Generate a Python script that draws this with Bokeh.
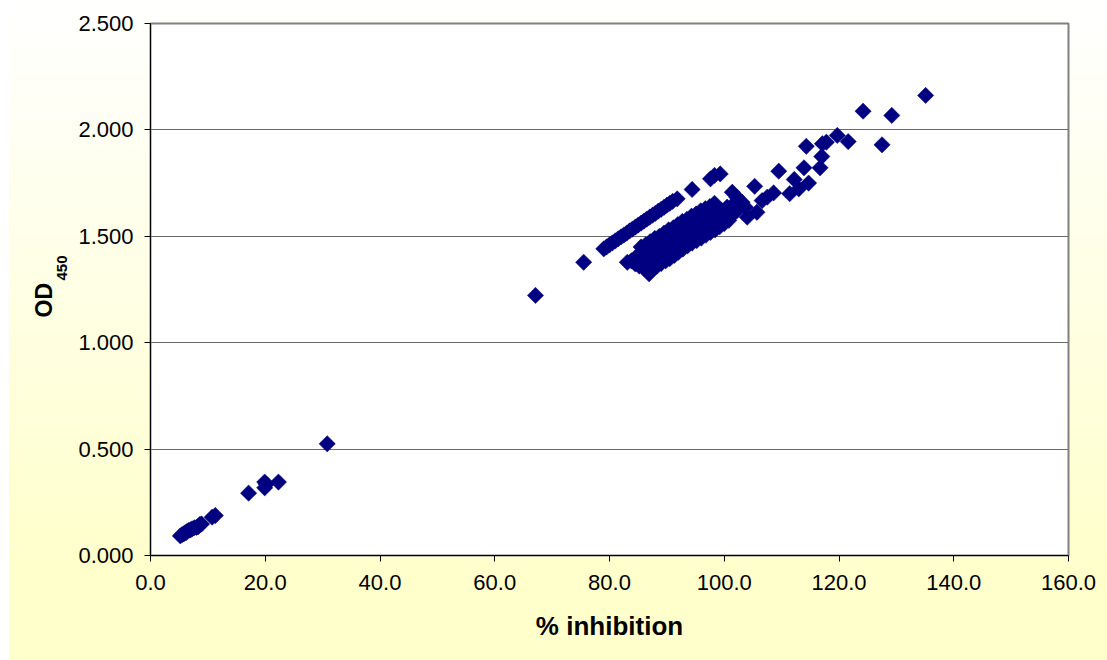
from bokeh.plotting import figure
from bokeh.models import Range1d, NumeralTickFormatter, FixedTicker, Title, ColumnDataSource
from bokeh.embed import file_html
from bokeh.resources import INLINE
import math

# ---- data ----
low_x = [5.2, 5.5, 5.8, 6.0, 6.2, 6.4, 6.7, 7.0, 7.25, 7.6, 8.0, 8.3, 8.6, 8.9,
         10.75, 11.3, 17.1, 19.9, 19.9, 20.2, 22.3, 30.8]
low_y = [0.092, 0.098, 0.102, 0.106, 0.108, 0.114, 0.118, 0.121, 0.125, 0.130, 0.132, 0.135, 0.146, 0.148,
         0.180, 0.188, 0.293, 0.318, 0.345, 0.335, 0.345, 0.525]

mid_x = [67.1, 75.5]
mid_y = [1.222, 1.378]

band_upper_x = [79.0, 79.5, 80.0, 80.5, 81.0, 81.5, 82.0, 82.5, 83.0, 83.5, 84.0, 84.5, 85.0,
                85.5, 86.0, 86.5, 87.0, 87.5, 88.0, 88.5, 89.0, 89.5, 90.0, 90.5, 91.0, 91.8, 94.4, 97.6, 98.3]
band_upper_y = [1.441, 1.450, 1.460, 1.469, 1.478, 1.488, 1.497, 1.506, 1.515, 1.525, 1.534, 1.543, 1.553,
                1.562, 1.571, 1.581, 1.590, 1.599, 1.608, 1.618, 1.627, 1.636, 1.646, 1.655, 1.664, 1.676, 1.720, 1.770, 1.786]

band_lower_x = [83.1, 83.8, 84.5, 85.2, 86.0, 86.9, 87.5, 88.3, 89.0, 89.8, 90.5, 91.3, 92.0, 92.8,
                93.6, 94.4, 95.2, 96.0, 96.8, 97.6, 98.4, 99.2, 100.0, 100.8,
                84.5, 85.3, 86.0, 86.8, 87.6, 88.4, 89.2, 90.0, 90.8, 91.6, 92.4, 93.2, 94.0, 94.8,
                95.6, 96.4, 97.2, 98.0, 98.8, 99.6, 100.4, 101.2,
                85.5, 86.3, 87.1, 87.9, 88.7, 89.5, 90.3, 91.1, 91.9, 92.7, 93.5, 94.3, 95.1,
                95.9, 96.7, 97.5, 98.3,
                88.0, 89.5, 91.0, 92.5, 94.0, 95.5, 97.0, 98.5, 87.0, 90.0, 93.0, 96.0, 99.5,
                101.6, 102.2, 100.5]
band_lower_y = [1.378, 1.385, 1.370, 1.360, 1.350, 1.324, 1.345, 1.360, 1.372, 1.385, 1.395, 1.410, 1.425, 1.440,
                1.455, 1.468, 1.480, 1.492, 1.505, 1.518, 1.530, 1.545, 1.560, 1.575,
                1.400, 1.410, 1.420, 1.430, 1.440, 1.455, 1.470, 1.480, 1.495, 1.505, 1.520, 1.530, 1.545, 1.555,
                1.570, 1.580, 1.590, 1.600, 1.610, 1.620, 1.630, 1.640,
                1.450, 1.460, 1.475, 1.490, 1.500, 1.515, 1.530, 1.540, 1.555, 1.570, 1.580, 1.595, 1.605,
                1.620, 1.630, 1.640, 1.655,
                1.400, 1.420, 1.440, 1.470, 1.500, 1.520, 1.545, 1.565, 1.385, 1.430, 1.490, 1.535, 1.580,
                1.607, 1.620, 1.600]

high_x = [101.4, 102.2, 103.1, 103.7, 100.5, 99.3, 104.0, 105.3, 105.7, 106.6, 107.5, 108.6, 109.5,
          111.4, 112.2, 113.0, 113.9, 114.7, 114.3, 116.7, 117.0, 117.1, 117.8, 119.7, 121.6,
          124.2, 127.5, 129.2, 135.1]
high_y = [1.707, 1.684, 1.660, 1.637, 1.637, 1.793, 1.590, 1.735, 1.613, 1.668, 1.684, 1.704, 1.806,
          1.700, 1.767, 1.723, 1.822, 1.750, 1.923, 1.822, 1.875, 1.935, 1.942, 1.974, 1.945,
          2.088, 1.930, 2.068, 2.162]

pct_inhibition = low_x + mid_x + band_upper_x + band_lower_x + high_x
od450 = low_y + mid_y + band_upper_y + band_lower_y + high_y

x_ticks = [0, 20, 40, 60, 80, 100, 120, 140, 160]
y_ticks = [0.0, 0.5, 1.0, 1.5, 2.0, 2.5]

# ---- figure ----
W, H = 1107, 660
p = figure(width=W, height=H, output_backend="svg", toolbar_location=None,
           x_range=Range1d(0, 160), y_range=Range1d(0, 2.5),
           min_border_left=150, min_border_right=39, min_border_top=23, min_border_bottom=105)
p.styles = {"background": "linear-gradient(to right, #ffffff 9px, rgba(255,255,255,0) 9px), "
                          "linear-gradient(to bottom, #ffffff 0%, #ffffcc 85%, #ffffcc 100%)"}
p.border_fill_color = None
p.background_fill_color = "white"
p.outline_line_color = "#808080"
p.outline_line_width = 2

FONT = "Liberation Sans"

for ax in (p.xaxis[0], p.yaxis[0]):
    ax.axis_line_color = "black"
    ax.axis_line_width = 1
    ax.major_tick_line_color = "black"
    ax.major_tick_in = 0
    ax.major_tick_out = 6
    ax.minor_tick_line_color = None
    ax.major_label_text_font = FONT
    ax.major_label_text_font_size = "22px"
    ax.major_label_text_color = "black"

p.yaxis.major_label_standoff = 11
p.xaxis.major_label_standoff = 13

p.xaxis.ticker = FixedTicker(ticks=x_ticks)
p.yaxis.ticker = FixedTicker(ticks=y_ticks)
p.xaxis.formatter = NumeralTickFormatter(format="0.0")
p.yaxis.formatter = NumeralTickFormatter(format="0.000")

p.xaxis.axis_label = "% inhibition"
p.xaxis.axis_label_text_font = FONT
p.xaxis.axis_label_text_font_style = "bold"
p.xaxis.axis_label_text_font_size = "26px"
p.xaxis.axis_label_text_color = "black"
p.xaxis.axis_label_standoff = 18

p.xgrid.grid_line_color = None
p.ygrid.grid_line_color = "#6b6b6b"
p.ygrid.grid_line_width = 1

# y axis title: OD with subscript 450 (two side titles)
p.add_layout(Title(text="450", align="left", offset=275, vertical_align="top", text_font=FONT,
                   text_font_style="bold", text_font_size="15px", text_color="black", standoff=14), "left")
p.add_layout(Title(text="OD", align="left", offset=238, text_font=FONT, text_font_style="bold",
                   text_font_size="23px", text_color="black", standoff=-15), "left")

src = ColumnDataSource(dict(x=pct_inhibition, y=od450))
p.scatter("x", "y", source=src, marker="square", size=11.5, angle=math.pi / 4,
          fill_color="#000080", line_color="#000080", line_width=0.5)

open("out.html", "w").write(file_html(p, INLINE))
